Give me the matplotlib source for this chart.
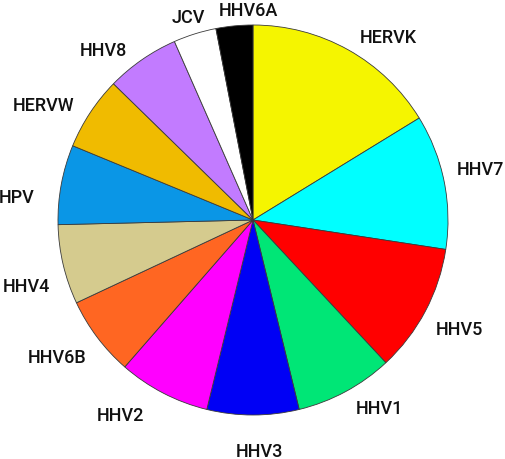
import matplotlib.pyplot as plt

labels = ['HERVK', 'HHV7', 'HHV5', 'HHV1', 'HHV3', 'HHV2', 'HHV6B',
          'HHV4', 'HPV', 'HERVW', 'HHV8', 'JCV', 'HHV6A']
counts = [32, 22, 21, 16, 15, 15, 13, 13, 13, 12, 12, 7, 6]
colors = ['#f5f500', '#00ffff', '#ff0000', '#00e676', '#0000f5', '#ff00ff',
          '#ff6622', '#d5cb8e', '#0a96e6', '#f0bb00', '#c27bff', '#ffffff',
          '#000000']

# label anchor (centre x, baseline y) in pixels of the 505x460 picture
label_px = [(388, 43), (480, 175), (459, 335), (379, 414), (259, 457),
            (120, 421), (57, 363), (26, 292), (17, 203), (44, 111),
            (103, 56), (188, 23), (248, 16)]

W, H = 505, 460
cx, cy, r = 253.0, 221.0, 195.0

fig = plt.figure(figsize=(W / 100, H / 100), dpi=100)
ax = fig.add_axes([0, 0, 1, 1])

wedges, texts = ax.pie(counts, labels=labels, colors=colors, startangle=90,
                       counterclock=False,
                       wedgeprops={'edgecolor': '#3a3a3a', 'linewidth': 0.6},
                       textprops={'fontsize': 13, 'family': ['Roboto', 'DejaVu Sans'],
                                  'fontweight': 'medium', 'color': '#111111'})

for t, (px, py) in zip(texts, label_px):
    t.set_position(((px - cx) / r, (cy - py) / r))
    t.set_ha('center')
    t.set_va('baseline')

ax.set_xlim(-cx / r, (W - cx) / r)
ax.set_ylim(-(H - cy) / r, cy / r)
ax.set_aspect('auto')
ax.axis('off')

fig.savefig('out.png', dpi=100)
